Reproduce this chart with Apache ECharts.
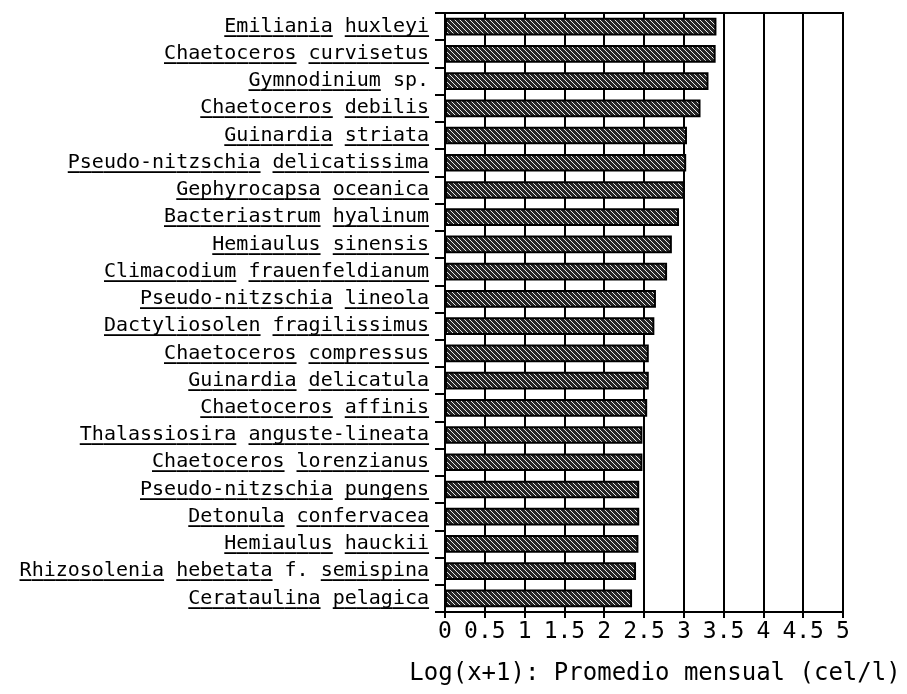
<!DOCTYPE html>
<html>
<head>
<meta charset="utf-8">
<script src="https://cdn.jsdelivr.net/npm/echarts@6/dist/echarts.min.js"></script>
<style>
  html, body { margin: 0; padding: 0; background: #fff; }
  #chart { width: 907px; height: 694px; }
</style>
</head>
<body>
<div id="chart"></div>
<script>
// Species, ordered top to bottom
const species = [
  'Emiliania huxleyi',
  'Chaetoceros curvisetus',
  'Gymnodinium sp.',
  'Chaetoceros debilis',
  'Guinardia striata',
  'Pseudo-nitzschia delicatissima',
  'Gephyrocapsa oceanica',
  'Bacteriastrum hyalinum',
  'Hemiaulus sinensis',
  'Climacodium frauenfeldianum',
  'Pseudo-nitzschia lineola',
  'Dactyliosolen fragilissimus',
  'Chaetoceros compressus',
  'Guinardia delicatula',
  'Chaetoceros affinis',
  'Thalassiosira anguste-lineata',
  'Chaetoceros lorenzianus',
  'Pseudo-nitzschia pungens',
  'Detonula confervacea',
  'Hemiaulus hauckii',
  'Rhizosolenia hebetata f. semispina',
  'Cerataulina pelagica'
];

// Log(x+1) of the monthly mean abundance (cells per litre)
const logMean = [
  3.41, 3.40, 3.31, 3.21, 3.04, 3.03, 3.01, 2.94, 2.85, 2.79, 2.65,
  2.63, 2.56, 2.56, 2.54, 2.48, 2.48, 2.44, 2.44, 2.43, 2.40, 2.35
];

// Tokens that are not part of the italic (underlined) binomial
const plainTokens = ['sp.', 'f.'];

const xTicks = ['0', '0.5', '1', '1.5', '2', '2.5', '3', '3.5', '4', '4.5', '5'];
const xTitle = 'Log(x+1): Promedio mensual (cel/l)';

// With a monospaced face, a run of underscores of the same length
// sits exactly under each underlined word.
function underlineMask(name) {
  return name.split(' ')
    .map(w => plainTokens.includes(w) ? ' '.repeat(w.length) : '_'.repeat(w.length))
    .join(' ');
}

// Diagonal hatch fill for the bars
function hatchPattern() {
  const s = 5;
  const c = document.createElement('canvas');
  c.width = s; c.height = s;
  const g = c.getContext('2d');
  g.fillStyle = '#262626';
  g.fillRect(0, 0, s, s);
  g.strokeStyle = '#ffffff';
  g.lineWidth = 0.9;
  g.beginPath();
  g.moveTo(-1, -1); g.lineTo(s + 1, s + 1);
  g.moveTo(-1, s - 1); g.lineTo(1, s + 1);
  g.moveTo(s - 1, -1); g.lineTo(s + 1, 1);
  g.stroke();
  return c;
}

const font = '"DejaVu Sans Mono", monospace';
const labelSize = 20;

const chart = echarts.init(document.getElementById('chart'), null, { renderer: 'canvas' });
chart.setOption({
  animation: false,
  backgroundColor: '#ffffff',
  grid: {
    left: 445, right: 64, top: 13, bottom: 82,
    outerBoundsMode: 'none',
    containLabel: false,
    show: true, borderColor: '#000', borderWidth: 2, backgroundColor: 'transparent'
  },
  xAxis: {
    type: 'value',
    min: 0, max: 5, interval: 0.5,
    axisLine: { show: true, lineStyle: { color: '#000', width: 2 } },
    axisTick: { show: true, length: 6, lineStyle: { color: '#000', width: 2 } },
    axisLabel: {
      color: '#000', fontFamily: font, fontSize: 23, margin: 9,
      formatter: (v) => xTicks[Math.round(v / 0.5)]
    },
    splitLine: { show: true, lineStyle: { color: '#000', width: 2 } },
    name: xTitle,
    nameLocation: 'middle',
    nameGap: 50,
    nameTextStyle: { color: '#000', fontFamily: font, fontSize: 24, padding: [0, 0, 0, 22] }
  },
  yAxis: [{
    // species names
    type: 'category',
    data: species,
    inverse: true,
    position: 'left',
    axisLine: { show: true, lineStyle: { color: '#000', width: 2 } },
    axisTick: { show: true, length: 10, alignWithLabel: false, lineStyle: { color: '#000', width: 2 } },
    axisLabel: {
      color: '#000', fontFamily: font, fontSize: labelSize, margin: 16,
      padding: [0, 0, 8, 0]
    },
    splitLine: { show: false }
  }, {
    // underlines beneath the italic parts of each name
    type: 'category',
    data: species,
    inverse: true,
    position: 'left',
    offset: 0,
    axisLine: { show: false },
    axisTick: { show: false },
    axisLabel: {
      color: '#000', fontFamily: font, fontWeight: 'bold', fontSize: labelSize, margin: 16,
      padding: [0, 0, 5, 0],
      formatter: underlineMask
    },
    splitLine: { show: false }
  }],
  series: [{
    type: 'bar',
    data: logMean,
    yAxisIndex: 0,
    barCategoryGap: '35%',
    itemStyle: {
      color: { image: hatchPattern(), repeat: 'repeat' },
      borderColor: '#000',
      borderWidth: 2
    }
  }]
});
</script>
</body>
</html>
